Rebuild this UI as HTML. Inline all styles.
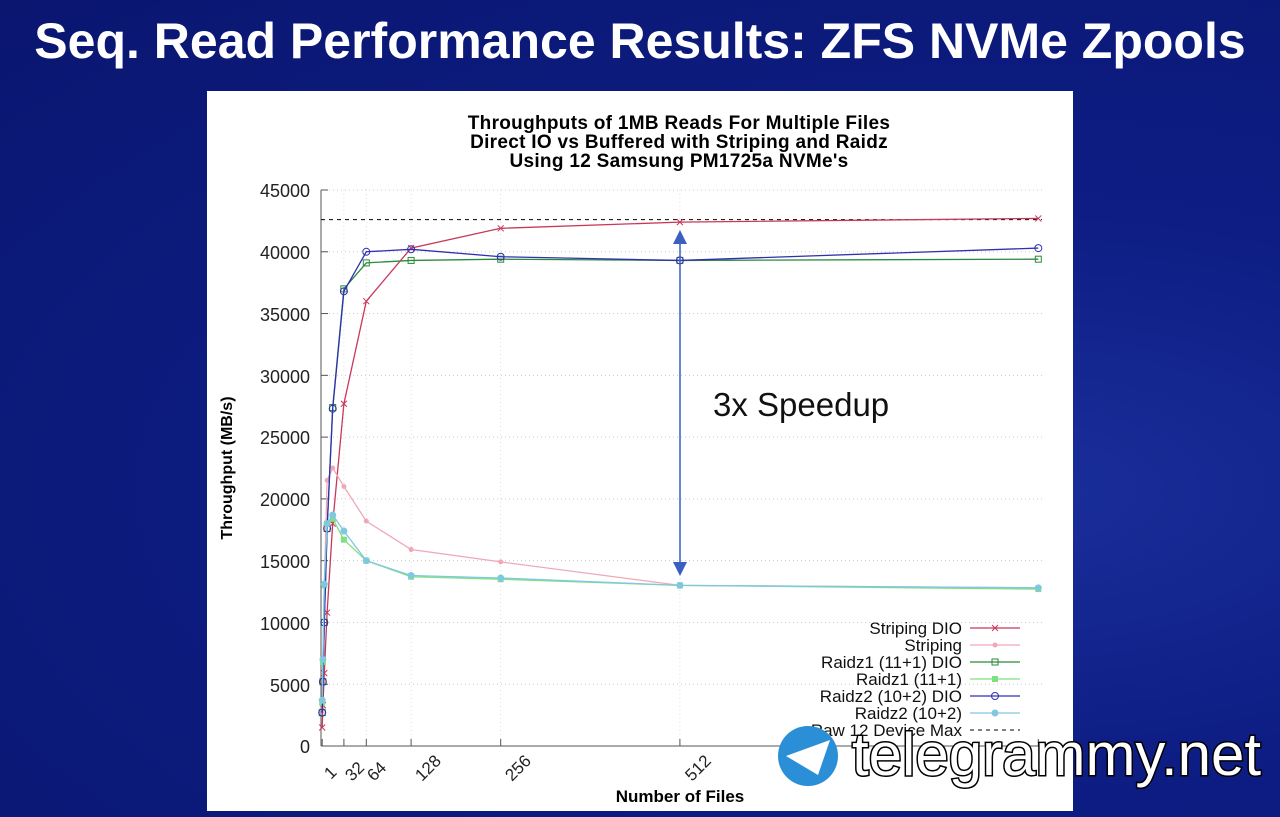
<!DOCTYPE html>
<html><head><meta charset="utf-8"><style>
body{margin:0;width:1280px;height:817px;overflow:hidden;background:radial-gradient(ellipse at 80% 60%,#1a2e9a 0%,#0d1d84 40%,#0a1670 100%);font-family:"Liberation Sans",sans-serif;position:relative}
h1{position:absolute;left:0;width:1280px;top:12px;margin:0;text-align:center;color:#fff;font-size:50px;font-weight:bold;white-space:nowrap}
#panel{position:absolute;left:207px;top:91px;width:866px;height:720px;background:#fff}
</style></head><body>
<h1>Seq. Read Performance Results: ZFS NVMe Zpools</h1>
<div id="panel"></div>
<svg id="s" width="1280" height="817" style="position:absolute;left:0;top:0" font-family="Liberation Sans, sans-serif">
<g font-weight="bold" font-size="19" text-anchor="middle" fill="#000" letter-spacing="0.3">
<text x="679" y="129">Throughputs of 1MB Reads For Multiple Files</text>
<text x="679" y="148">Direct IO vs Buffered with Striping and Raidz</text>
<text x="679" y="167">Using 12 Samsung PM1725a NVMe's</text>
<text x="680" y="802" font-size="17" letter-spacing="0">Number of Files</text>
<text transform="translate(232,468) rotate(-90)" font-size="16" letter-spacing="0">Throughput (MB/s)</text>
</g>
<g font-size="18" text-anchor="end" fill="#222">
<text x="310" y="197">45000</text><text x="310" y="259">40000</text><text x="310" y="321">35000</text><text x="310" y="383">30000</text><text x="310" y="444">25000</text><text x="310" y="506">20000</text><text x="310" y="568">15000</text><text x="310" y="630">10000</text><text x="310" y="692">5000</text><text x="310" y="753">0</text>
</g>
<g font-size="17" fill="#222">
<text transform="translate(331,780) rotate(-45)">1</text>
<text transform="translate(352,782) rotate(-45)">32</text>
<text transform="translate(374,782) rotate(-45)">64</text>
<text transform="translate(422,782) rotate(-45)">128</text>
<text transform="translate(512,782) rotate(-45)">256</text>
<text transform="translate(692,782) rotate(-45)">512</text>
</g>
<g id="plot"></g>
<g font-size="17" text-anchor="end" fill="#111">
<text x="962" y="634">Striping DIO</text><text x="962" y="651">Striping</text><text x="962" y="668">Raidz1 (11+1) DIO</text><text x="962" y="685">Raidz1 (11+1)</text><text x="962" y="702">Raidz2 (10+2) DIO</text><text x="962" y="719">Raidz2 (10+2)</text><text x="962" y="736">Raw 12 Device Max</text>
</g>
<text x="713" y="416" font-size="33" fill="#111">3x Speedup</text>
<circle cx="808" cy="756" r="30" fill="#2a8fd6"/>
<path d="M786 756 L830 740 L818 775 Z" fill="#fff"/>
<text x="852" y="775" font-size="60" fill="#fff" stroke="#000" stroke-width="3" paint-order="stroke">telegrammy.net</text>
</svg>
<script>
const X=v=>321.5+v*0.7, Y=v=>746-v*(556/45000);
const xs=[1,2,4,8,16,32,64,128,256,512,1024];
const S=[
["#c8385a",[1500,3300,5900,10800,18000,27700,36000,40300,41900,42400,42700],"x"],
["#f0a8b8",[3000,7000,13000,21500,22500,21000,18200,15900,14900,13000,12800],"*"],
["#2a8a3a",[2700,5200,10000,17600,27400,37000,39100,39300,39400,39300,39400],"s"],
["#80e080",[3500,6800,13000,18000,18400,16700,15000,13700,13500,13000,12700],"S"],
["#3030b0",[2700,5200,10000,17600,27300,36800,40000,40200,39600,39300,40300],"o"],
["#80c8e0",[3700,7000,13100,18000,18700,17400,15000,13800,13600,13000,12800],"O"]];
let h='';
for(let i=1;i<=9;i++){h+=`<line x1="321" x2="1042" y1="${Y(i*5000)}" y2="${Y(i*5000)}" stroke="#ccc" stroke-dasharray="1,3"/>`;}
[32,64,128,256,512].forEach(v=>h+=`<line x1="${X(v)}" x2="${X(v)}" y1="190" y2="746" stroke="#ddd" stroke-dasharray="1,3"/>`);
h+=`<line x1="321" y1="190" x2="321" y2="746" stroke="#555"/><line x1="321" y1="746" x2="1042" y2="746" stroke="#555"/>`;
for(let i=0;i<=9;i++)h+=`<line x1="321" x2="328" y1="${Y(i*5000)}" y2="${Y(i*5000)}" stroke="#555"/>`;
[1,32,64,128,256,512,1024].forEach(v=>h+=`<line x1="${X(v)}" x2="${X(v)}" y1="746" y2="739" stroke="#555"/>`);
h+=`<line x1="321" x2="1042" y1="${Y(42600)}" y2="${Y(42600)}" stroke="#000" stroke-dasharray="4,4"/>`;
function mk(t,x,y,c){if(t=="x")return `<path d="M${x-3} ${y-3}L${x+3} ${y+3}M${x-3} ${y+3}L${x+3} ${y-3}" stroke="${c}"/>`;
if(t=="*")return `<circle cx="${x}" cy="${y}" r="2.5" fill="${c}"/>`;
if(t=="s")return `<rect x="${x-3}" y="${y-3}" width="6" height="6" fill="none" stroke="${c}"/>`;
if(t=="S")return `<rect x="${x-3}" y="${y-3}" width="6" height="6" fill="${c}"/>`;
if(t=="o")return `<circle cx="${x}" cy="${y}" r="3.5" fill="none" stroke="${c}"/>`;
return `<circle cx="${x}" cy="${y}" r="3.5" fill="${c}"/>`;}
S.forEach((s,k)=>{h+=`<polyline fill="none" stroke="${s[0]}" stroke-width="1.3" points="${xs.map((v,i)=>X(v)+','+Y(s[1][i])).join(' ')}"/>`;
xs.forEach((v,i)=>h+=mk(s[2],X(v),Y(s[1][i]),s[0]));
const ly=628+k*17;h+=`<line x1="970" x2="1020" y1="${ly}" y2="${ly}" stroke="${s[0]}" stroke-width="1.3"/>`+mk(s[2],995,ly,s[0]);});
h+=`<line x1="970" x2="1020" y1="730" y2="730" stroke="#000" stroke-dasharray="4,4"/>`;
h+=`<line x1="680" x2="680" y1="240" y2="565" stroke="#3a5fc0" stroke-width="1.5"/><path d="M673 244L680 230L687 244Z M673 562L680 576L687 562Z" fill="#3a5fc0"/>`;
document.getElementById('plot').innerHTML=h;
</script>
</body></html>
